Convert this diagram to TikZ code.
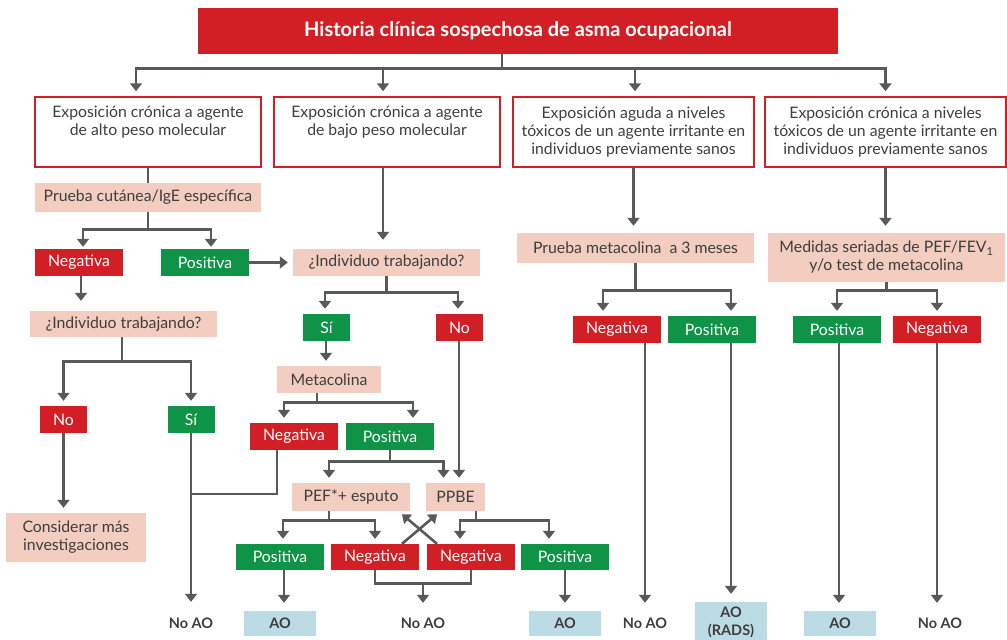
\documentclass[tikz,border=0pt]{standalone}
\usepackage{fontspec}
\setmainfont{Lato}
\usepackage{xcolor}
\usetikzlibrary{arrows.meta,calc,positioning}
\definecolor{flowred}{HTML}{D21F26}
\definecolor{flowgreen}{HTML}{0F9447}
\definecolor{softsalmon}{HTML}{F3CDBF}
\definecolor{softcyan}{HTML}{BBDCE5}
\definecolor{linegray}{HTML}{58595B}
\definecolor{textgray}{HTML}{3E3E3E}
\tikzset{
  link/.style={draw=linegray, line width=2.6pt},
  arrowlink/.style={link, -{Triangle[width=12pt,length=8pt]}, shorten >=5pt},
  basetext/.style={font={\fontsize{15.8}{18}\selectfont}, inner sep=0pt, align=center},
  titlenode/.style={fill=flowred, text=white, minimum width=640pt, minimum height=46pt, inner sep=0pt, font={\fontsize{20}{22}\selectfont\bfseries}},
  exposnode/.style={basetext, draw=flowred, line width=1.5pt, fill=white, text=textgray, minimum width=226pt, minimum height=70pt},
  testnode/.style={basetext, fill=softsalmon, text=textgray, minimum height=28pt},
  negnode/.style={basetext, fill=flowred, text=white, minimum width=88pt, minimum height=27pt},
  posnode/.style={basetext, fill=flowgreen, text=white, minimum width=88pt, minimum height=27pt},
  resultnode/.style={basetext, fill=softcyan, text=textgray, minimum width=72pt, minimum height=25pt, font={\fontsize{14.5}{18}\selectfont\bfseries}},
  outcome/.style={basetext, text=textgray, minimum height=25pt, font={\fontsize{14.5}{18}\selectfont\bfseries}}
}
\begin{document}
\begin{tikzpicture}[x=1pt, y=-1pt]
  \useasboundingbox (0,0) rectangle (1007,640);
  % top row
  \node[titlenode] (title) at (518,31) {Historia clínica sospechosa de asma ocupacional};
  \node[exposnode] (e1) at (148,132) {Exposición crónica a agente\\de alto peso molecular\\\strut};
  \node[exposnode] (e2) at (387,132) {Exposición crónica a agente\\de bajo peso molecular\\\strut};
  \node[exposnode, minimum width=241pt] (e3) at (633.5,132) {Exposición aguda a niveles\\tóxicos de un agente irritante en\\individuos previamente sanos};
  \node[exposnode, minimum width=241pt] (e4) at (885.5,132) {Exposición crónica a niveles\\tóxicos de un agente irritante en\\individuos previamente sanos};
  \draw[link] ([xshift=-16pt]title.south) -- ++(0,14) coordinate (b0);
  \draw[arrowlink] (b0) -| ([xshift=-12pt]e1.north);
  \draw[arrowlink] (b0) -| ([xshift=-4pt]e2.north);
  \draw[arrowlink] (b0) -| ([xshift=1.5pt]e3.north);
  \draw[arrowlink] (b0) -| (e4.north);

  % high molecular weight branch
  \node[testnode, minimum width=226pt, minimum height=29pt] (skin) at (148,197.5) {Prueba cutánea/IgE específica};
  \node[negnode] (neg1) at (79,262.5) {Negativa};
  \node[posnode] (pos1) at (205,262.5) {Positiva};
  \node[testnode, minimum width=187pt, minimum height=26pt] (work1) at (123.5,324) {¿Individuo trabajando?};
  \node[negnode, minimum width=47pt] (no1) at (63.5,419.5) {No};
  \node[posnode, minimum width=47pt] (si1) at (191,419.5) {Sí};
  \node[testnode, minimum width=140pt, minimum height=49pt] (more) at (76,537.5) {Considerar más\\investigaciones};
  \node[outcome] (noao1) at (191,623.5) {No AO};
  \draw[link] (e1) -- (skin);
  \draw[link] (skin.south) -- ++(0,17) coordinate (b1);
  \draw[arrowlink, shorten >=2pt] (b1) -| ([xshift=4pt]neg1.north);
  \draw[arrowlink, shorten >=2pt] (b1) -| ([xshift=6pt]pos1.north);
  \draw[arrowlink, shorten >=10pt] ([xshift=2pt]neg1.south) -- ([xshift=2pt]neg1.south |- work1.north);
  \draw[link] ([xshift=-1.5pt]work1.south) -- ++(0,24) coordinate (b2);
  \draw[arrowlink] (b2) -| (no1.north);
  \draw[arrowlink] (b2) -| (si1.north);
  \draw[arrowlink] (no1) -- (no1 |- more.north);
  \draw[arrowlink, shorten >=9pt] (si1) -- (noao1);

  % low molecular weight branch
  \node[testnode, minimum width=187pt, minimum height=27pt] (work2) at (386.5,262.5) {¿Individuo trabajando?};
  \node[posnode, minimum width=47pt] (si2) at (326.5,327.5) {Sí};
  \node[negnode, minimum width=47pt] (no2) at (459.5,327.5) {No};
  \node[testnode, minimum width=104pt, minimum height=27pt] (meta) at (329,379.5) {Metacolina};
  \node[negnode] (neg2) at (294,436.5) {Negativa};
  \node[posnode] (pos2) at (390,436.5) {Positiva};
  \node[testnode, minimum width=118pt] (pef) at (351,497) {PEF*+ esputo};
  \node[testnode, minimum width=59pt] (ppbe) at (455.5,497) {PPBE};
  \node[posnode, minimum height=26pt] (pos3) at (280,557) {Positiva};
  \node[negnode, minimum height=26pt] (neg3) at (375,557) {Negativa};
  \node[negnode, minimum height=26pt] (neg4) at (471,557) {Negativa};
  \node[posnode, minimum height=26pt] (pos4) at (565,557) {Positiva};
  \node[resultnode] (ao1) at (280,623.5) {AO};
  \node[outcome] (noao2) at (423,623.5) {No AO};
  \node[resultnode] (ao2) at (565,623.5) {AO};
  \draw[arrowlink, shorten >=9pt] ([xshift=-4pt]e2.south) -- ([xshift=-4pt]e2.south |- work2.north);
  \draw[arrowlink] (pos1) -- (work2);
  \draw[link] (work2.south) -- ++(0,16) coordinate (b3);
  \draw[arrowlink] (b3) -| ([xshift=-1.5pt]si2.north);
  \draw[arrowlink] (b3) -| ([xshift=-1.5pt]no2.north);
  \draw[arrowlink] ([xshift=-3pt]meta.north |- si2.south) -- ([xshift=-3pt]meta.north);
  \draw[link] ([xshift=-12pt]meta.south) -- ++(0,9) coordinate (b4);
  \draw[arrowlink] (b4) -| ([xshift=-10pt]neg2.north);
  \draw[arrowlink] (b4) -| ([xshift=23pt]pos2.north);
  \coordinate (j1) at (191,494);
  \draw[link] ([xshift=-17pt]neg2.south) |- (j1);
  \draw[link] (pos2.south) -- ++(0,11) coordinate (b5);
  \draw[arrowlink] (b5) -| ([xshift=-22pt]pef.north);
  \draw[arrowlink] (b5) -| ([xshift=-12pt]ppbe.north);
  \draw[arrowlink] ([xshift=3.5pt]ppbe.north |- no2.south) -- ([xshift=3.5pt]ppbe.north);
  \draw[link] ([xshift=-22pt]pef.south) -- ++(0,9) coordinate (b6);
  \draw[arrowlink] (b6) -| ([xshift=3pt]pos3.north);
  \draw[arrowlink] (b6) -| (neg3.north);
  \draw[link] ([xshift=20.5pt]ppbe.south) -- ++(0,9) coordinate (b7);
  \draw[arrowlink] (b7) -| ([xshift=-11pt]neg4.north);
  \draw[arrowlink] (b7) -| ([xshift=-16pt]pos4.north);
  \draw[arrowlink, shorten >=0pt] ([xshift=27pt]neg3.north) -- ([xshift=-18.5pt,yshift=-3pt]ppbe.south);
  \draw[arrowlink, shorten >=0pt] ([xshift=-34pt]neg4.north) -- ([xshift=51pt,yshift=-3pt]pef.south);
  \draw[arrowlink, shorten >=8pt] ([xshift=4pt]pos3.south) -- ([xshift=4pt]ao1.north);
  \draw[link] (neg3.south) -- ++(0,13) coordinate (b8) -| (neg4.south);
  \draw[arrowlink, shorten >=8pt] (b8 -| noao2) -- (noao2);
  \draw[arrowlink, shorten >=8pt] (pos4) -- (ao2);

  % acute irritant branch
  \node[testnode, minimum width=237pt, minimum height=30pt] (pm) at (635.5,248) {Prueba metacolina~ a 3 meses};
  \node[negnode] (neg5) at (617,329.5) {Negativa};
  \node[posnode] (pos5) at (712,329.5) {Positiva};
  \node[outcome] (noao3) at (645,623.5) {No AO};
  \node[resultnode, minimum height=40pt] (rads) at (731,622) {AO\\(RADS)};
  \draw[arrowlink, shorten >=7pt] (e3) -- (e3 |- pm.north);
  \draw[link] (pm.south) -- ++(0,27) coordinate (b9);
  \draw[arrowlink] (b9) -| ([xshift=-14pt]neg5.north);
  \draw[arrowlink] (b9) -| ([xshift=19pt]pos5.north);
  \draw[arrowlink, shorten >=8pt] (noao3 |- neg5.south) -- (noao3);
  \draw[arrowlink, shorten >=8pt] (rads |- pos5.south) -- (rads);

  % chronic irritant branch
  \node[testnode, minimum width=237pt, minimum height=49pt] (serial) at (886.5,257.5) {Medidas seriadas de PEF/FEV\textsubscript{1}\\y/o test de metacolina};
  \node[posnode] (pos6) at (837,329.5) {Positiva};
  \node[negnode] (neg6) at (937,329.5) {Negativa};
  \node[resultnode] (ao3) at (840,623.5) {AO};
  \node[outcome] (noao4) at (940,623.5) {No AO};
  \draw[arrowlink, shorten >=7pt] (e4) -- (e4 |- serial.north);
  \draw[link] (serial.south) -- ++(0,8) coordinate (b10);
  \draw[arrowlink] (b10) -| (pos6.north);
  \draw[arrowlink] (b10) -| (neg6.north);
  \draw[arrowlink, shorten >=8pt] ([xshift=2pt]pos6.south) -- ([xshift=2pt]pos6.south |- ao3.north);
  \draw[arrowlink, shorten >=8pt] (neg6) -- (neg6 |- noao4.north);
\end{tikzpicture}
\end{document}
